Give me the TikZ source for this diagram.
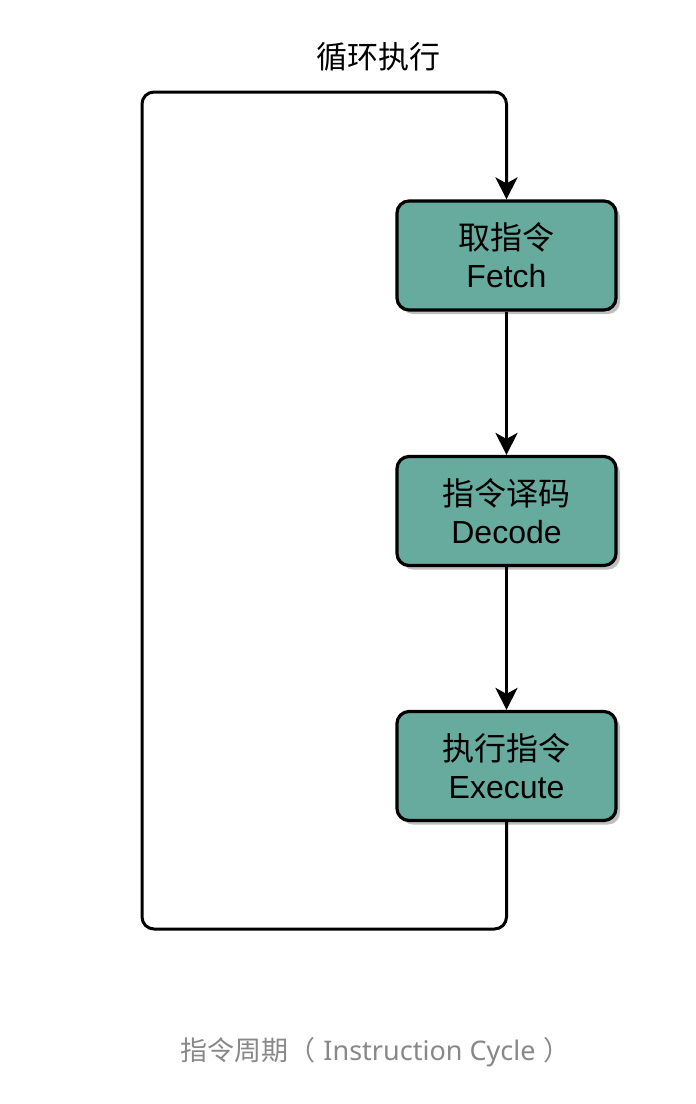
\documentclass[tikz,border=0pt]{standalone}
\usepackage{fontspec}
\setmainfont{Liberation Sans}
\newfontfamily\cjk{Noto Sans CJK SC}
\newfontfamily\capfont{Noto Sans}
\usetikzlibrary{arrows.meta,shadows}
\definecolor{boxfill}{HTML}{67AB9F}
\definecolor{capgray}{HTML}{888888}
\tikzset{
  stepbox/.style={draw=black, line width=3.2pt, fill=boxfill, rounded corners=12pt,
    minimum width=219pt, minimum height=109pt, align=center, inner sep=0pt,
    font=\fontsize{32}{38}\selectfont,
    drop shadow={shadow xshift=4pt, shadow yshift=-4pt, fill=black, opacity=0.25}},
  conn/.style={line width=3pt, draw=black, -{Stealth[length=22pt,width=22pt,inset=6pt]}},
}
\begin{document}
\begin{tikzpicture}[x=1pt,y=-1pt]
\useasboundingbox (0,0) rectangle (696,1104);
\node[stepbox] (fetch) at (506.5,255.5) {{\cjk 取指令}\\Fetch};
\node[stepbox] (decode) at (506.5,511) {{\cjk 指令译码}\\Decode};
\node[stepbox] (exec) at (506.5,766) {{\cjk 执行指令}\\Execute};
\node[font=\cjk\fontsize{31}{36}\selectfont] (title) at (378,57) {循环执行};
\node[text=capgray, font=\fontsize{27}{32}\selectfont] (caption) at (375.5,1052) {{\cjk 指令周期（}\ {\capfont Instruction Cycle}\ {\cjk ）}};
\coordinate (bl) at (142,929);
\coordinate (tl) at (142,92);
\draw[conn] (fetch.south) -- (decode.north);
\draw[conn] (decode.south) -- (exec.north);
\draw[conn, rounded corners=12pt] (exec.south) |- (bl) -- (tl) -| (fetch.north);
\end{tikzpicture}
\end{document}
